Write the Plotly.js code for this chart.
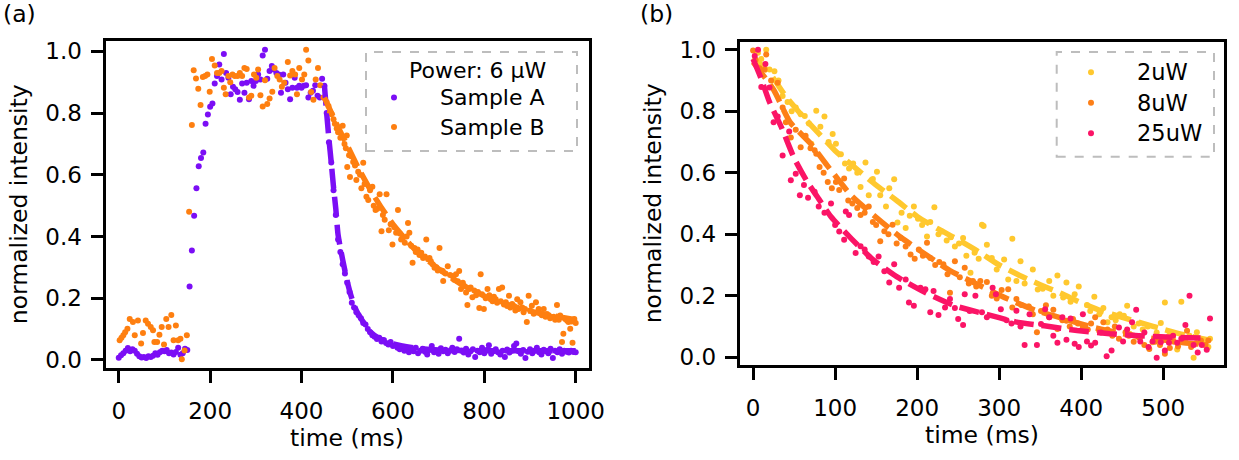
<!DOCTYPE html>
<html>
<head>
<meta charset="utf-8">
<script src="https://cdn.plot.ly/plotly-3.0.1.min.js"></script>
<style>html,body{margin:0;padding:0;background:#fff;}#chart{width:1239px;height:460px;}</style>
</head>
<body>
<div id="chart"></div>
<script>
// ---------- Panel (a) ----------
const sampleA_t = [0,5,10,15,20,25,30,35,40,45,50,55,60,65,70,75,80,85,90,95,100,105,110,115,120,125,130,135,140,145,150,
155,160,165,170,175,180,185,190,195,200,205,210,215,220,225,230,235,240,245,250,255,260,265,270,275,280,285,290,295,300,
305,310,315,320,325,330,335,340,345,350,355,360,365,370,375,380,385,390,395,400,405,410,415,420,425,430,435,440,445,450,
455,460,465,470,475,480,485,490,495,500,505,510,515,520,525,530,535,540,545,550,555,560,565,570,575,580,585,590,595,600,
605,610,615,620,625,630,635,640,645,650,655,660,665,670,675,680,685,690,695,700,705,710,715,720,725,730,735,740,745,750,
755,760,765,770,775,780,785,790,795,800,805,810,815,820,825,830,835,840,845,850,855,860,865,870,875,880,885,890,895,900,
905,910,915,920,925,930,935,940,945,950,955,960,965,970,975,980,985,990,995,1000];
const sampleA_v = [0.007,0.015,0.022,0.030,0.039,0.028,0.035,0.030,0.020,0.012,0.008,0.010,0.006,0.012,0.010,0.014,0.022,0.017,0.025,0.030,0.028,0.032,0.022,0.024,0.018,0.026,0.040,0.017,0.022,0.036,0.032,
0.238,0.355,0.467,0.556,0.628,0.654,0.672,0.765,0.795,0.820,0.831,0.896,0.920,0.957,0.909,0.991,0.930,0.914,0.861,0.885,0.877,0.868,0.843,0.896,0.866,0.898,0.845,0.904,0.888,0.904,
0.925,0.909,0.986,1.005,0.911,0.936,0.952,0.941,0.930,0.925,0.866,0.925,0.898,0.877,0.845,0.882,0.914,0.882,0.888,0.882,0.888,0.890,0.850,0.866,0.872,0.890,0.856,0.850,0.911,0.888,
0.800,0.705,0.640,0.550,0.470,0.390,0.350,0.310,0.280,0.250,0.220,0.185,0.170,0.155,0.145,0.135,0.120,0.115,0.100,0.090,0.080,0.075,0.068,0.072,0.060,0.065,0.055,0.050,0.058,0.045,
0.048,0.040,0.035,0.042,0.030,0.038,0.025,0.033,0.028,0.040,0.022,0.030,0.036,0.027,0.018,0.032,0.045,0.025,0.030,0.020,0.038,0.028,0.033,0.022,0.030,0.040,0.026,0.035,0.069,0.030,
0.024,0.036,0.018,0.028,0.035,0.010,0.030,0.025,0.040,0.022,0.032,0.048,0.020,0.028,0.035,0.025,0.018,0.030,0.010,0.034,0.024,0.030,0.045,0.053,0.028,0.020,0.032,0.006,0.027,0.035,
0.022,0.030,0.040,0.025,0.018,0.033,0.028,0.022,0.036,0.006,0.030,0.025,0.035,0.020,0.030,0.027,0.024,0.030,0.026,0.025];

const sampleB_t = [2,6,10,14,19,24,31,35,42,49,53,59,64,70,75,78,84,89,94,99,104,109,115,120,125,130,135,138,144,149,
154,160,164,169,174,179,184,189,194,199,204,210,215,220,225,230,234,240,244,249,254,260,265,270,275,280,285,290,296,301,305,310,315,320,325,330,336,341,347,352,357,362,370,375,380,386,390,395,401,406,410,415,421,426,431,436,441,448,
455,459,462,466,470,473,477,480,485,490,494,497,499,500,504,506,509,513,517,520,524,528,531,535,538,542,546,550,555,558,562,566,571,575,578,582,586,591,595,599,603,607,611,615,618,622,626,630,633,636,640,643,647,650,654,658,662,666,670,673,677,680,683,687,691,695,698,702,706,709,710,715,720,725,730,734,738,742,745,749,753,756,760,763,767,770,774,778,782,786,789,792,795,799,803,807,811,814,818,821,825,828,832,836,839,843,847,850,854,857,861,865,868,872,875,879,883,886,889,893,897,900,904,908,913,916,919,923,926,930,934,937,941,944,948,952,955,959,963,966,970,973,977,981,984,988,991,993,997,1000];
const sampleB_v = [0.064,0.072,0.080,0.090,0.101,0.133,0.123,0.080,0.128,0.053,0.087,0.128,0.117,0.107,0.096,0.058,0.058,0.082,0.107,0.050,0.133,0.107,0.146,0.064,0.112,0.064,0.069,0.002,0.031,0.080,
0.480,0.761,0.939,0.912,0.879,0.826,0.917,0.920,0.925,0.869,0.975,0.954,0.930,0.930,0.936,0.882,0.861,0.920,0.900,0.925,0.920,0.920,0.930,0.920,0.946,0.943,0.850,0.856,0.925,0.914,0.941,0.858,0.821,0.906,0.829,0.847,0.869,0.946,0.920,0.909,0.885,0.898,0.965,0.922,0.936,0.925,0.861,0.946,0.909,0.925,1.005,0.970,0.868,0.843,0.909,0.946,0.890,0.850,
0.835,0.823,0.800,0.797,0.780,0.765,0.750,0.738,0.720,0.759,0.700,0.686,0.727,0.625,0.663,0.593,0.660,0.641,0.630,0.583,0.610,0.600,0.556,0.639,0.570,0.529,0.518,0.550,0.561,0.500,0.486,0.490,0.537,0.417,0.470,0.454,0.537,0.420,0.440,0.374,0.430,0.412,0.486,0.410,0.390,0.396,0.380,0.400,0.444,0.412,0.370,0.315,0.363,0.350,0.358,0.340,0.347,0.330,0.335,0.390,0.326,0.330,0.320,0.310,0.299,0.300,0.290,0.363,0.290,0.288,0.256,0.280,0.304,0.275,0.272,0.260,0.278,0.255,0.288,0.230,0.250,0.240,0.219,0.178,0.230,0.235,0.203,0.225,0.210,0.220,0.168,0.278,0.213,0.165,0.200,0.230,0.210,0.197,0.190,0.205,0.197,0.185,0.230,0.190,0.235,0.180,0.187,0.175,0.208,0.170,0.181,0.175,0.160,0.197,0.165,0.187,0.170,0.155,0.165,0.123,0.208,0.160,0.176,0.150,0.187,0.155,0.165,0.150,0.145,0.165,0.140,0.149,0.145,0.135,0.139,0.140,0.130,0.178,0.130,0.144,0.058,0.085,0.133,0.128,0.123,0.101,0.125,0.056,0.133,0.120];

const fitA_t = [450,455,460,465,470,475,480,490,500,510,520,535,550,570,600,650,700,800,1000];
const fitA_v = [0.890,0.800,0.715,0.640,0.560,0.490,0.405,0.325,0.255,0.200,0.160,0.123,0.092,0.070,0.052,0.038,0.032,0.030,0.030];
const fitB_t = [450,475,500,525,550,575,600,650,700,750,800,850,900,950,1000];
const fitB_v = [0.850,0.770,0.695,0.620,0.553,0.493,0.440,0.355,0.295,0.245,0.207,0.180,0.158,0.143,0.130];

// ---------- Panel (b) ----------
const p2_t = [2,6,10,16,20,26,31,36,42,47,52,58,63,68,71,77,82,87,92,97,101,107,112,117,122,127,131,137,141,146,151,155,162,166,172,176,181,186,191,196,201,206,212,216,221,226,230,236,241,246,251,256,260,265,270,275,279,281,285,291,297,306,311,316,321,326,331,336,341,347,353,361,366,371,378,382,387,392,397,402,407,411,416,422,427,432,437,442,447,452,456,459,464,470,475,481,487,492,497,502,507,512,517,522,527,532,537,541,546,551,555,557];
const p2_v = [0.960,0.990,0.970,1.000,0.936,0.930,0.900,0.850,0.830,0.800,0.812,0.790,0.785,0.760,0.694,0.802,0.750,0.783,0.700,0.726,0.694,0.660,0.630,0.614,0.630,0.600,0.554,0.633,0.527,0.580,0.603,0.527,0.490,0.550,0.579,0.438,0.470,0.420,0.460,0.490,0.450,0.430,0.393,0.440,0.488,0.400,0.409,0.380,0.390,0.360,0.370,0.388,0.330,0.275,0.340,0.320,0.431,0.427,0.366,0.323,0.285,0.318,0.253,0.385,0.248,0.312,0.240,0.165,0.285,0.220,0.223,0.248,0.200,0.266,0.194,0.243,0.180,0.205,0.230,0.103,0.170,0.150,0.197,0.140,0.160,0.114,0.130,0.120,0.140,0.135,0.167,0.076,0.100,0.110,0.090,0.100,0.049,0.080,0.111,0.178,0.070,0.060,0.025,0.180,0.050,0.070,-0.002,0.081,0.050,0.040,0.033,0.060];

const p8_t = [0,3,8,14,16,22,30,36,40,46,52,58,64,70,75,77,81,86,91,96,101,105,111,116,121,127,131,136,141,146,150,155,160,165,170,175,180,186,192,197,202,207,212,216,222,227,232,237,240,246,252,258,263,268,272,277,285,291,297,303,311,316,321,327,336,341,346,351,357,361,366,371,377,382,386,390,396,402,408,412,417,422,427,432,438,441,446,454,458,464,470,477,483,490,496,502,508,513,518,523,529,534,540,546,551,555];
const p8_v = [0.998,0.968,0.940,0.936,0.985,0.900,0.893,0.812,0.764,0.715,0.740,0.683,0.720,0.680,0.673,0.662,0.619,0.600,0.570,0.550,0.570,0.544,0.581,0.510,0.500,0.485,0.463,0.470,0.490,0.440,0.430,0.377,0.410,0.400,0.431,0.370,0.388,0.360,0.334,0.320,0.350,0.330,0.372,0.323,0.300,0.310,0.302,0.270,0.210,0.312,0.260,0.291,0.240,0.248,0.230,0.248,0.245,0.200,0.191,0.219,0.221,0.162,0.189,0.170,0.165,0.140,0.081,0.150,0.169,0.130,0.154,0.092,0.120,0.119,0.100,0.124,0.110,0.097,0.090,0.110,0.130,0.085,0.114,0.090,0.070,0.100,0.060,0.081,0.070,0.050,0.065,0.040,0.027,0.050,0.040,0.011,0.030,0.050,0.035,0.060,0.086,0.033,0.045,0.054,0.040,0.054];

const p25_t = [2,6,10,15,20,25,30,36,44,46,52,57,62,67,75,80,87,95,100,105,111,113,117,125,131,136,141,147,153,160,166,172,178,186,190,196,204,210,216,220,226,234,240,246,250,256,258,264,271,279,285,292,296,302,309,315,321,326,331,337,346,351,356,361,366,371,377,382,387,392,397,402,407,412,417,424,431,437,446,451,456,462,467,472,477,482,487,492,497,502,507,512,517,522,527,532,537,542,547,553,557];
const p25_v = [0.980,1.000,0.879,0.954,0.877,0.764,0.783,0.656,0.734,0.576,0.597,0.527,0.560,0.519,0.538,0.490,0.470,0.500,0.430,0.409,0.382,0.474,0.463,0.339,0.361,0.350,0.328,0.310,0.328,0.280,0.243,0.302,0.226,0.253,0.178,0.167,0.226,0.221,0.146,0.215,0.137,0.162,0.189,0.160,0.124,0.105,0.205,0.150,0.200,0.146,0.130,0.226,0.205,0.156,0.120,0.110,0.151,0.100,0.040,0.140,0.040,0.108,0.156,0.130,0.070,0.047,0.130,0.057,0.126,0.044,0.033,0.140,0.051,0.038,0.047,0.080,0.003,0.022,0.097,0.051,0.090,0.114,0.154,0.051,0.080,0.033,0.051,-0.002,0.049,0.022,0.047,0.070,0.047,0.060,0.105,0.200,0.040,0.015,0.040,0.024,0.126];

const fit2_t = [0,20,40,60,80,100,125,150,175,200,225,250,275,300,325,350,375,400,425,450,475,500,525,555];
const fit2_v = [0.975,0.925,0.848,0.785,0.728,0.672,0.615,0.560,0.510,0.458,0.418,0.382,0.343,0.300,0.266,0.236,0.208,0.177,0.150,0.130,0.110,0.091,0.073,0.056];
const fit8_t = [0,25,45,70,90,120,150,180,210,240,275,310,345,380,415,450,490,525,555];
const fit8_v = [0.960,0.870,0.765,0.695,0.625,0.525,0.455,0.390,0.335,0.282,0.235,0.190,0.152,0.124,0.097,0.077,0.060,0.047,0.040];
const fit25_t = [0,10,20,35,50,65,80,95,120,145,175,210,245,280,320,355,395,435,470,510,555];
const fit25_v = [0.970,0.905,0.830,0.745,0.648,0.575,0.515,0.457,0.385,0.320,0.262,0.210,0.168,0.143,0.115,0.102,0.087,0.076,0.070,0.065,0.062];

const xTicksA = [0,200,400,600,800,1000];
const xTicksB = [0,100,200,300,400,500];
const yTicks = [0,0.2,0.4,0.6,0.8,1.0];
const yTickText = ['0.0','0.2','0.4','0.6','0.8','1.0'];

// ---------- colors ----------
const cA = '#7b0ef5', cB = '#fe7f10';
const c2 = '#ffc82e', c8 = '#fd7f17', c25 = '#fb1466';

const W = 1239, H = 460;
const FONT = 'DejaVu Sans, Verdana, sans-serif';
const px = v => v / W;
const py = v => 1 - v / H;

function pts(x, y, color, xa, ya, name) {
  return {type:'scatter', mode:'markers', x:x, y:y, xaxis:xa, yaxis:ya, name:name,
    marker:{color:color, size:6, line:{width:0}}, showlegend:false, hoverinfo:'x+y'};
}
function fit(x, y, color, xa, ya) {
  return {type:'scatter', mode:'lines', x:x, y:y, xaxis:xa, yaxis:ya,
    line:{color:color, width:5.5, dash:'20px,8px', shape:'spline', smoothing:0.6}, showlegend:false, hoverinfo:'skip'};
}

const data = [
  pts(sampleA_t, sampleA_v, cA, 'x', 'y', 'Sample A'),
  pts(sampleB_t, sampleB_v, cB, 'x', 'y', 'Sample B'),
  fit(fitA_t, fitA_v, cA, 'x', 'y'),
  fit(fitB_t, fitB_v, cB, 'x', 'y'),
  pts(p2_t, p2_v, c2, 'x2', 'y2', '2uW'),
  fit(fit2_t, fit2_v, c2, 'x2', 'y2'),
  pts(p8_t, p8_v, c8, 'x2', 'y2', '8uW'),
  fit(fit8_t, fit8_v, c8, 'x2', 'y2'),
  pts(p25_t, p25_v, c25, 'x2', 'y2', '25uW'),
  fit(fit25_t, fit25_v, c25, 'x2', 'y2')
];

const tickFont = {family:FONT, size:23, color:'#000'};
const titleFont = {family:FONT, size:23.5, color:'#000'};
function xax(domain, range, ticks, anchor) {
  return {domain:domain, range:range, anchor:anchor, tickvals:ticks, ticks:'outside', ticklen:12, tickwidth:3,
    tickcolor:'#000', showline:true, linewidth:3, linecolor:'#000', mirror:true, showgrid:false, zeroline:false,
    ticklabelstandoff:8,
    tickfont:tickFont, title:{text:'time (ms)', font:titleFont, standoff:2}, automargin:false, fixedrange:true};
}
function yax(domain, range, anchor) {
  return {domain:domain, range:range, anchor:anchor, tickvals:yTicks, ticktext:yTickText, ticks:'outside', ticklen:12, tickwidth:3,
    tickcolor:'#000', showline:true, linewidth:3, linecolor:'#000', mirror:true, showgrid:false, zeroline:false,
    ticklabelstandoff:4,
    tickfont:tickFont, title:{text:'normalized intensity', font:titleFont, standoff:12}, automargin:false, fixedrange:true};
}

function circ(cx, cy, color) {
  return {type:'circle', xref:'paper', yref:'paper', x0:px(cx-3), x1:px(cx+3), y0:py(cy+3), y1:py(cy-3),
    fillcolor:color, line:{width:0}};
}
function txt(x, y, s, anchor, size) {
  return {xref:'paper', yref:'paper', x:px(x), y:py(y), text:s, showarrow:false, xanchor:anchor, yanchor:'middle',
    font:{family:FONT, size:size || 22.5, color:'#000'}};
}

const layout = {
  width:W, height:H, margin:{l:0, r:0, t:0, b:0},
  paper_bgcolor:'#fff', plot_bgcolor:'#fff', showlegend:false,
  font:{family:FONT, color:'#000'},
  xaxis: xax([105.5/W, 588.5/W], [-29, 1028], xTicksA, 'y'),
  yaxis: yax([1-368/H, 1-40.5/H], [-0.026, 1.035], 'x'),
  xaxis2: xax([739.8/W, 1224.2/W], [-16.2, 574.3], xTicksB, 'y2'),
  yaxis2: yax([1-365.2/H, 1-41.5/H], [-0.026, 1.027], 'x2'),
  shapes: [
    {type:'rect', xref:'paper', yref:'paper', x0:px(366), x1:px(577), y0:py(151), y1:py(52),
      line:{color:'#bdbdbd', width:2, dash:'dash'}, fillcolor:'rgba(255,255,255,0.8)', layer:'above'},
    circ(394, 97.5, cA), circ(394, 127, cB),
    {type:'rect', xref:'paper', yref:'paper', x0:px(1056.7), x1:px(1214), y0:py(156.7), y1:py(52),
      line:{color:'#bdbdbd', width:2, dash:'dash'}, fillcolor:'rgba(255,255,255,0.8)', layer:'above'},
    circ(1091, 72.3, c2), circ(1091, 102.7, c8), circ(1091, 133.3, c25)
  ],
  annotations: [
    txt(478, 70.5, 'Power: 6 μW', 'center', 22),
    txt(438, 97.5, 'Sample A', 'left', 22),
    txt(438, 127, 'Sample B', 'left', 22),
    txt(1135, 72.3, '2uW', 'left'),
    txt(1135, 102.7, '8uW', 'left'),
    txt(1135, 133.3, '25uW', 'left'),
    txt(20, 14, '(a)', 'center', 23.5),
    txt(656, 14, '(b)', 'center', 23.5)
  ]
};

Plotly.newPlot('chart', data, layout, {displayModeBar:false, staticPlot:true});
</script>
</body>
</html>
